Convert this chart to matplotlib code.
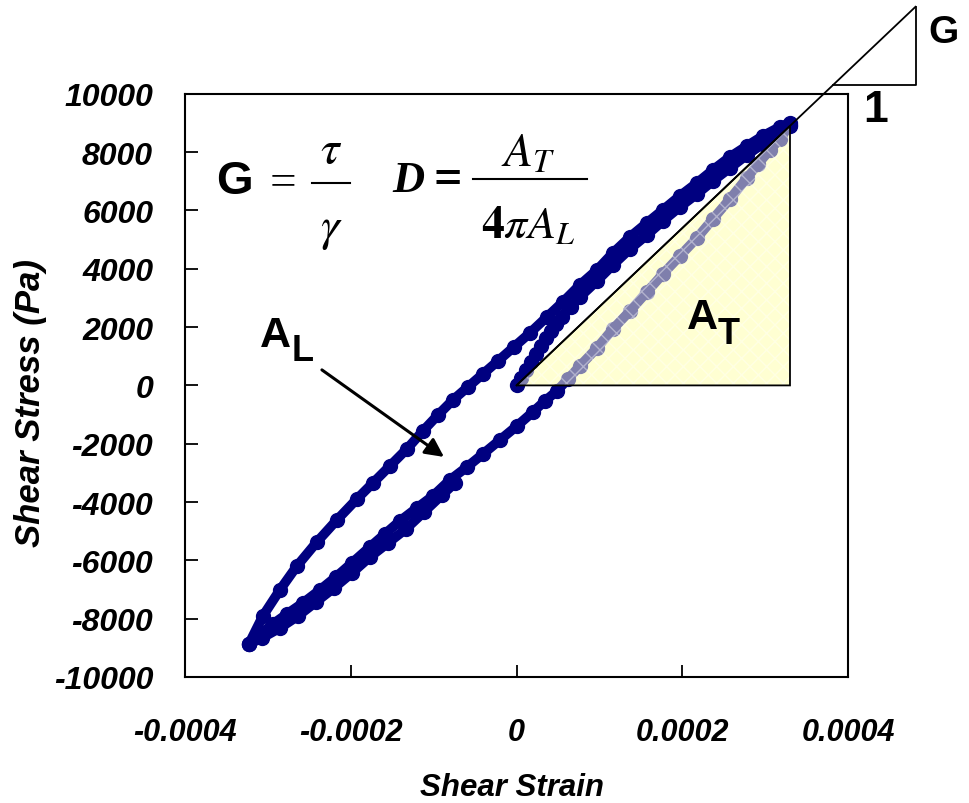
import matplotlib
matplotlib.use('Agg')
import matplotlib.pyplot as plt
from matplotlib.patches import Polygon
from matplotlib.lines import Line2D

# shear strain / shear stress read off the loop
# first loading from the origin, running just under the upper branch to the peak
initial_strain = [0.0, 0.0000054, 0.0000115, 0.0000175, 0.0000235, 0.0000296,
                  0.0000356, 0.0000416, 0.0000477, 0.0000549, 0.0000658, 0.0000766,
                  0.0000972, 0.0001165, 0.000137, 0.0001575, 0.0001768, 0.0001973,
                  0.0002179, 0.0002372, 0.0002577, 0.0002782, 0.0002975, 0.000318,
                  0.00033]
initial_stress = [0, 257, 532, 806, 1081, 1355, 1629, 1870, 2110, 2350, 2693, 3036,
                  3585, 4134, 4682, 5163, 5643, 6124, 6569, 7015, 7461, 7907, 8284,
                  8662, 8902]

upper_strain = [-0.0003229, -0.000306, -0.0002855, -0.0002649, -0.0002408, -0.0002167,
                -0.0001925, -0.0001732, -0.0001527, -0.0001322, -0.0001129, -0.0000947,
                -0.0000766, -0.0000585, -0.0000404, -0.0000223, -0.000003, 0.0000163,
                0.0000368, 0.0000561, 0.0000766, 0.0000972, 0.0001165, 0.000137,
                0.0001575, 0.0001768, 0.0001973, 0.0002179, 0.0002372, 0.0002577,
                0.0002782, 0.0002975, 0.000318, 0.00033]
upper_stress = [-8868, -7907, -7015, -6192, -5369, -4614, -3894, -3345, -2762, -2178,
                -1561, -1012, -497, -51, 395, 840, 1321, 1801, 2350, 2864, 3448, 3962,
                4545, 5094, 5575, 6021, 6501, 6947, 7393, 7839, 8216, 8559, 8868, 9005]

lower_strain = [0.00033, 0.000318, 0.000306, 0.0002915, 0.0002782, 0.0002577, 0.0002372,
                0.0002179, 0.0001973, 0.0001768, 0.0001575, 0.000137, 0.0001165,
                0.0000972, 0.0000766, 0.0000622, 0.0000489, 0.0000344, 0.0000199,
                0.0000006, -0.0000199, -0.0000404, -0.0000597, -0.0000803, -0.0001008,
                -0.0001201, -0.0001406, -0.0001587, -0.0001768, -0.0001986, -0.0002179,
                -0.0002372, -0.0002577, -0.000277, -0.0002939, -0.0003096, -0.0003229]
lower_stress = [8936, 8456, 8079, 7599, 7118, 6398, 5712, 5060, 4443, 3825, 3208, 2556,
                1938, 1286, 669, 223, -189, -532, -909, -1389, -1870, -2350, -2796,
                -3242, -3791, -4202, -4648, -5094, -5540, -6089, -6569, -7015, -7461,
                -7839, -8182, -8525, -8868]

# second, slightly lower pass of the reloading branch near the negative tip
lower2_strain = [-0.0003229, -0.0003072, -0.0002855, -0.0002637, -0.000242, -0.0002203,
                 -0.0001986, -0.0001768, -0.0001551, -0.0001334, -0.0001116, -0.0000899,
                 -0.0000742]
lower2_stress = [-8868, -8662, -8319, -7907, -7427, -6947, -6432, -5883, -5403, -4923,
                 -4340, -3757, -3345]

# peak used for the A_T triangle and the G slope
peak_strain = 0.00033
peak_stress = 8900

xticks = [-0.0004, -0.0002, 0, 0.0002, 0.0004]
xtick_labels = ['-0.0004', '-0.0002', '0', '0.0002', '0.0004']
yticks = [10000, 8000, 6000, 4000, 2000, 0, -2000, -4000, -6000, -8000, -10000]
ytick_labels = ['10000', '8000', '6000', '4000', '2000', '0', '-2000', '-4000',
                '-6000', '-8000', '-10000']

W, H = 969, 804
NAVY = '#000080'
SANS = 'Liberation Sans'


def fx(px):
    return px / W


def fy(py):
    return 1 - py / H


plt.rcParams['mathtext.fontset'] = 'stix'
plt.rcParams['hatch.linewidth'] = 1.0

fig = plt.figure(figsize=(W / 100, H / 100), dpi=100)
ax = fig.add_axes([185 / W, 1 - 678 / H, 663 / W, 583.2 / H])

# yellow A_T triangle under the loop
tri = [(0, 0), (peak_strain, 0), (peak_strain, peak_stress)]
ax.add_patch(Polygon(tri, closed=True, facecolor='#FFFFCC', edgecolor='none', zorder=1))

for xs, ys in [(lower2_strain, lower2_stress), (initial_strain, initial_stress),
               (upper_strain, upper_stress), (lower_strain, lower_stress)]:
    ax.plot(xs, ys, color=NAVY, lw=7, marker='o', ms=10, mec=NAVY, mfc=NAVY,
            solid_capstyle='round', solid_joinstyle='round', zorder=2)

# washed-out hatched overlay over the loop inside the triangle
ax.add_patch(Polygon(tri, closed=True, facecolor=(1, 1, 0.85, 0.5),
                     edgecolor=(1, 1, 1, 0.4), lw=0, hatch='xx', zorder=3))
ax.add_patch(Polygon(tri, closed=True, facecolor='none', edgecolor='black',
                     lw=1.3, zorder=4))

# G slope line running out past the frame, with its small slope triangle
slope = peak_stress / peak_strain
y_top = 12985
x_end = y_top / slope
ax.plot([0, x_end], [0, y_top], color='black', lw=1.3, clip_on=False, zorder=4)
y_step = 10309
ax.plot([y_step / slope, x_end, x_end], [y_step, y_step, y_top], color='black',
        lw=1.3, clip_on=False, zorder=4)

ax.annotate('', xy=(-0.0000875, -2453), xytext=(-0.0002348, 532),
            arrowprops=dict(arrowstyle='-|>', color='black', lw=2.2,
                            mutation_scale=28, shrinkA=0, shrinkB=0), zorder=5)

ax.set_xlim(-0.0004, 0.0004)
ax.set_ylim(-10000, 10000)
ax.set_xticks(xticks)
ax.set_xticklabels(xtick_labels, family=SANS, fontweight='bold',
                   fontstyle='italic', fontsize=22)
ax.set_yticks(yticks)
ax.set_yticklabels(ytick_labels, family=SANS, fontweight='bold',
                   fontstyle='italic', fontsize=23)
ax.tick_params(axis='both', direction='in', length=9, width=1.3, color='black')
ax.tick_params(axis='y', pad=23)
ax.tick_params(axis='x', pad=29)
for s in ax.spines.values():
    s.set_linewidth(1.5)
    s.set_color('black')

fig.text(fx(512), fy(788), 'Shear Strain', family=SANS, fontweight='bold',
         fontstyle='italic', fontsize=22.5, ha='center', va='center')
fig.text(fx(31), fy(403), 'Shear Stress (Pa)', family=SANS,
         fontweight='bold', fontstyle='italic', fontsize=25, rotation=90,
         ha='center', va='center')

# formulas
fig.text(fx(234), fy(182), 'G', family=SANS, fontweight='bold',
         fontsize=34, ha='center', va='center')
fig.text(fx(283), fy(184), '=', family='Liberation Serif', fontsize=34,
         ha='center', va='center')
fig.text(fx(331), fy(150), r'$\tau$', fontsize=34, ha='center', va='center')
fig.add_artist(Line2D([fx(312), fx(350)], [fy(184), fy(184)], color='black', lw=1.5))
fig.text(fx(331), fy(230), r'$\gamma$', fontsize=34, ha='center', va='center')
fig.text(fx(408), fy(181), 'D', family='Liberation Serif', fontweight='bold',
         fontstyle='italic', fontsize=32, ha='center', va='center')
fig.text(fx(448), fy(181), '=', family='Liberation Serif', fontweight='bold',
         fontsize=36, ha='center', va='center')
fig.add_artist(Line2D([fx(473), fx(587)], [fy(180), fy(180)], color='black', lw=1.5))
fig.text(fx(528), fy(154), r'$A_T$', fontsize=34, ha='center', va='center')
fig.text(fx(528), fy(226), r'$\mathbf{4}\pi A_L$', fontsize=33, ha='center',
         va='center')

# area labels
fig.text(fx(275), fy(336), 'A', family=SANS, fontweight='bold',
         fontsize=31, ha='center', va='center')
fig.text(fx(303), fy(352), 'L', family=SANS, fontweight='bold',
         fontsize=26, ha='center', va='center')
fig.text(fx(702), fy(318), 'A', family=SANS, fontweight='bold',
         fontsize=31, ha='center', va='center')
fig.text(fx(729), fy(334), 'T', family=SANS, fontweight='bold',
         fontsize=26, ha='center', va='center')

fig.text(fx(943), fy(33), 'G', family=SANS, fontweight='bold',
         fontsize=28, ha='center', va='center')
fig.text(fx(876), fy(110), '1', family=SANS, fontweight='bold', fontsize=32,
         ha='center', va='center')

fig.savefig('out.png', dpi=100)
